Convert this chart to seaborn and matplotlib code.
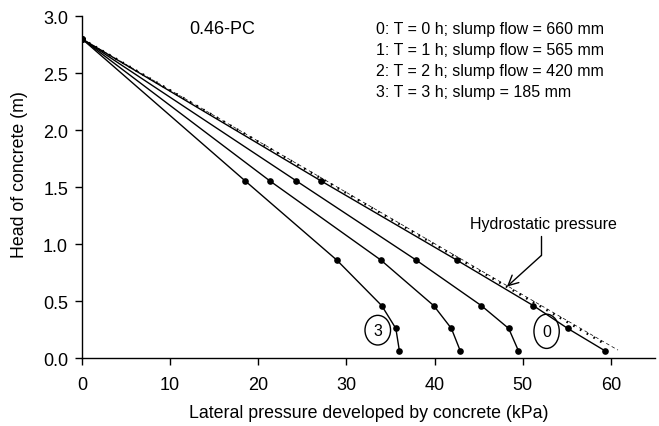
import numpy as np
import pandas as pd
import matplotlib
matplotlib.use("Agg")
import matplotlib.pyplot as plt
from matplotlib.patches import Ellipse
import seaborn as sns

# ---- data ----
head = [2.8, 1.555, 0.86, 0.46, 0.26, 0.065]
p_T0 = [0, 27.1, 42.5, 51.2, 55.1, 59.3]
p_T1 = [0, 24.3, 37.9, 45.3, 48.4, 49.5]
p_T2 = [0, 21.3, 33.9, 39.9, 41.9, 42.9]
p_T3 = [0, 18.5, 28.9, 34.0, 35.6, 36.0]
series_ids = ["0", "1", "2", "3"]

hydro_dotted_x = [0, 59.4]
hydro_dotted_y = [2.8, 0.12]
hydro_dashed_x = [0, 60.8]
hydro_dashed_y = [2.8, 0.07]

legend_lines = [
    "0: T = 0 h; slump flow = 660 mm",
    "1: T = 1 h; slump flow = 565 mm",
    "2: T = 2 h; slump flow = 420 mm",
    "3: T = 3 h; slump = 185 mm",
]
title_text = "0.46-PC"
xticks = [0, 10, 20, 30, 40, 50, 60]
yticks = [0.0, 0.5, 1.0, 1.5, 2.0, 2.5, 3.0]

rows = []
for sid, vals in zip(series_ids, [p_T0, p_T1, p_T2, p_T3]):
    for p, h in zip(vals, head):
        rows.append({"series": sid, "pressure": p, "head": h})
df = pd.DataFrame(rows)

sns.set_style("ticks")
plt.rcParams["font.family"] = ["Liberation Sans", "DejaVu Sans"]
plt.rcParams["text.color"] = "black"
plt.rcParams["axes.labelcolor"] = "black"
plt.rcParams["xtick.color"] = "black"
plt.rcParams["ytick.color"] = "black"

fig = plt.figure(figsize=(6.59, 4.27), dpi=100)
ax = fig.add_axes([0.1244, 0.159, 0.8696, 0.801])

sns.lineplot(data=df, x="pressure", y="head", units="series", estimator=None,
             sort=False, color="black", lw=1.0, marker="o", markersize=4.8,
             markeredgewidth=0, ax=ax)

ax.plot(hydro_dotted_x, hydro_dotted_y, color="black", lw=1.7,
        linestyle=(0, (0.7, 2.6)))
ax.plot(hydro_dashed_x, hydro_dashed_y, color="black", lw=0.5,
        linestyle=(0, (5, 4)))

ax.set_xlim(0, 65)
ax.set_ylim(0, 3.0)
ax.set_xticks(xticks)
ax.set_yticks(yticks)
ax.set_yticklabels([f"{v:.1f}" for v in yticks])
ax.tick_params(axis="both", direction="out", length=5, width=1.0,
               labelsize=13, color="black", labelcolor="black")
ax.tick_params(axis="x", pad=8)
ax.tick_params(axis="y", pad=5)
for s in ["top", "right"]:
    ax.spines[s].set_visible(False)
for s in ["left", "bottom"]:
    ax.spines[s].set_color("black")
    ax.spines[s].set_linewidth(1.0)

ax.set_xlabel("Lateral pressure developed by concrete (kPa)", fontsize=12.8, labelpad=8)
ax.set_ylabel("Head of concrete (m)", fontsize=12.8)
ax.yaxis.set_label_coords(-0.094, 0.54)

ax.text(12.2, 2.89, title_text, fontsize=13, va="center", ha="left")
for i, line in enumerate(legend_lines):
    ax.text(33.4, 2.89 - i * 0.183, line, fontsize=11.5, va="center", ha="left")

ax.text(52.3, 1.18, "Hydrostatic pressure", fontsize=11.5, va="center", ha="center")
ax.plot([52.1, 52.1], [1.07, 0.90], color="black", lw=1.0)
ax.annotate("", xy=(48.2, 0.627), xytext=(52.1, 0.90),
            arrowprops=dict(arrowstyle="->", color="black", lw=1.0,
                            mutation_scale=18, shrinkA=0, shrinkB=0))

for cx, cy, w, h, lab in [(52.7, 0.235, 2.87, 0.30, "0"), (33.55, 0.245, 2.9, 0.26, "3")]:
    ax.add_patch(Ellipse((cx, cy), w, h, fill=False, edgecolor="black", lw=1.0))
    ax.text(cx, cy, lab, fontsize=11.5, ha="center", va="center")

fig.savefig("out.png", dpi=100)
